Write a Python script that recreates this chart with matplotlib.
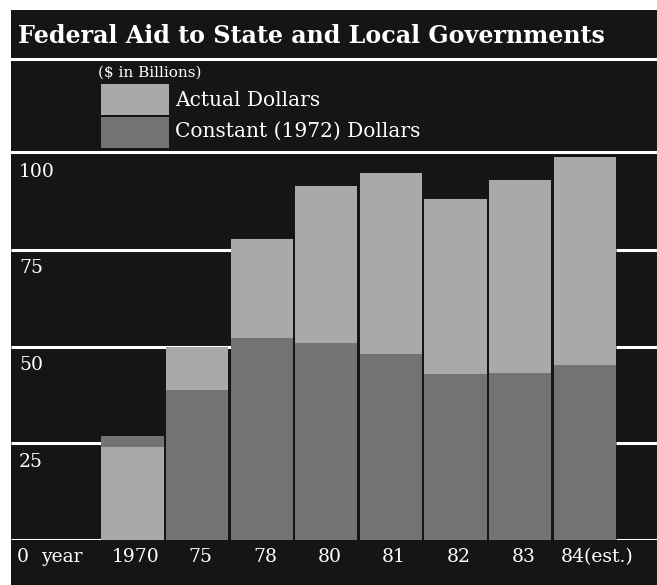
import numpy as np
import matplotlib.pyplot as plt
from matplotlib.patches import Rectangle
from matplotlib.lines import Line2D

years = ['1970', '75', '78', '80', '81', '82', '83', '84(est.)']
actual = [24.1, 49.8, 77.9, 91.5, 94.8, 88.2, 92.9, 99.0]
constant = [27.0, 38.8, 52.2, 50.9, 48.0, 42.9, 43.2, 45.2]
yticks = [25, 50, 75, 100]

W, H = 657, 585
bg = '#151515'
light = '#a9a9a9'
dark = '#737373'
serif = 'DejaVu Serif'

fig = plt.figure(figsize=(W / 100, H / 100), dpi=100)
fig.patch.set_facecolor('white')

def fx(px):
    return px / W

def fy(py):
    return 1 - py / H

# black panel
fig.add_artist(Rectangle((fx(11), 0), 1 - fx(11), fy(10), transform=fig.transFigure,
                         facecolor=bg, edgecolor='none', zorder=0))

# separators
for py in [59, 152]:
    fig.add_artist(Line2D([fx(11), 1], [fy(py), fy(py)], transform=fig.transFigure,
                          color='white', lw=2.2, zorder=5))

fig.text(fx(18), fy(36), 'Federal Aid to State and Local Governments', color='white',
         fontsize=17.1, fontweight='bold', family=serif, va='center', ha='left')

# legend
fig.text(fx(98), fy(73), '($ in Billions)', color='white', fontsize=11, family=serif,
         va='center', ha='left')
fig.add_artist(Rectangle((fx(101), fy(115)), fx(68), 31 / H, transform=fig.transFigure,
                         facecolor=light, edgecolor='none'))
fig.add_artist(Rectangle((fx(101), fy(148)), fx(68), 31 / H, transform=fig.transFigure,
                         facecolor=dark, edgecolor='none'))
fig.text(fx(175), fy(100), 'Actual Dollars', color='white', fontsize=14.5, family=serif,
         va='center', ha='left')
fig.text(fx(175), fy(131), 'Constant (1972) Dollars', color='white', fontsize=14.5,
         family=serif, va='center', ha='left')

# bar area
ax = fig.add_axes([fx(11), fy(540), fx(646), (540 - 153) / H])
ax.set_facecolor('none')
pitch = 64.6
x0 = 132.5
left, right = -(x0 - 11) / pitch, (657 - x0) / pitch
ax.set_xlim(left, right)
ax.set_ylim(0, 100)
ax.axis('off')

width = 0.965
x = np.arange(len(years))
tops = np.maximum(actual, constant)

# grid lines only show in the open space left and right of the bars
for v in [0] + yticks[:-1]:
    covered = np.nonzero(tops >= v)[0]
    first = covered[0] if len(covered) else len(x)
    ax.hlines(v, left, first - width / 2, color='white', lw=2.2, zorder=1)
    ax.hlines(v, x[-1] + width / 2, right, color='white', lw=2.2, zorder=1)

for i in x:
    a, c = actual[i], constant[i]
    # the taller series sits behind the shorter one
    order = [(a, light), (c, dark)] if a >= c else [(c, dark), (a, light)]
    for z, (h, col) in enumerate(order):
        ax.bar(i, h, width=width, color=col, edgecolor='none', zorder=2 + z)

for v in yticks:
    ax.text(8 / 646, v - 2.5, str(v), transform=ax.get_yaxis_transform(),
            color='white', fontsize=13.5, family=serif, va='top', ha='left')

ty = -(557 - 540) / 387
ax.text((23 - 11) / 646, ty, '0', transform=ax.transAxes, color='white',
        fontsize=13.5, family=serif, va='center', ha='center')
ax.text((41 - 11) / 646, ty, 'year', transform=ax.transAxes, color='white',
        fontsize=13.5, family=serif, va='center', ha='left')
for i, lab in enumerate(years):
    if lab.endswith('(est.)'):
        ax.text(i - 0.37, ty, lab, transform=ax.get_xaxis_transform(), color='white',
                fontsize=13.5, family=serif, va='center', ha='left')
    else:
        ax.text(i + 0.05, ty, lab, transform=ax.get_xaxis_transform(), color='white',
                fontsize=13.5, family=serif, va='center', ha='center')

fig.savefig('out.png', dpi=100, facecolor=fig.get_facecolor())
